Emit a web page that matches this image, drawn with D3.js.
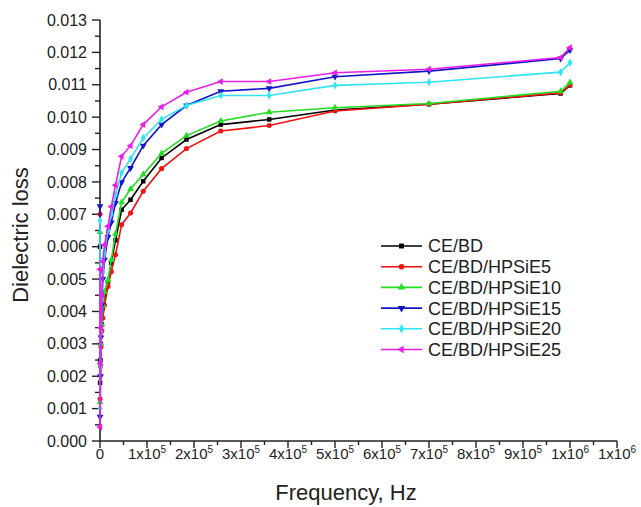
<!DOCTYPE html>
<html>
<head>
<meta charset="utf-8">
<script src="https://cdn.jsdelivr.net/npm/d3@7"></script>
<style>
  body { margin: 0; background: #fff; }
  svg { display: block; font-family: "Liberation Sans", Arial, sans-serif; }
</style>
</head>
<body>
<svg id="chart" width="641" height="507"></svg>
<script>
// frequencies (Hz)
const freq = [50, 200, 1000, 2000, 4000, 6000, 9600, 17000, 24000, 33000, 46000, 65000,
  92000, 131000, 184000, 257000, 360000, 500000, 700000, 980000, 1000000];

const ceBd = [0.0060, 0.0018, 0.0025, 0.0030, 0.0036, 0.0041, 0.0045, 0.0049, 0.0055, 0.0062, 0.00714, 0.00745,
  0.00802, 0.00874, 0.00931, 0.00977, 0.00993, 0.01022, 0.01040, 0.01073, 0.01098];
const hpsie5 = [0.0070, 0.0013, 0.0023, 0.0029, 0.0034, 0.0038, 0.0042, 0.00477, 0.00523, 0.00575, 0.00668, 0.00704,
  0.00771, 0.00841, 0.00903, 0.00957, 0.00974, 0.01019, 0.01040, 0.01075, 0.01100];
const hpsie10 = [0.00645, 0.0012, 0.0024, 0.0030, 0.0036, 0.0042, 0.0046, 0.00497, 0.00559, 0.0064, 0.00737, 0.00778,
  0.00823, 0.00888, 0.00943, 0.00988, 0.01015, 0.01029, 0.01042, 0.01080, 0.01107];
const hpsie15 = [0.00725, 0.00075, 0.0020, 0.0032, 0.0042, 0.0050, 0.0056, 0.0063, 0.00675, 0.00735, 0.00799, 0.00843,
  0.00912, 0.00977, 0.01036, 0.01080, 0.01089, 0.01125, 0.01142, 0.01181, 0.01207];
const hpsie20 = [0.0068, 0.0010, 0.0023, 0.0034, 0.0044, 0.0052, 0.0058, 0.0065, 0.0070, 0.0076, 0.00828, 0.00871,
  0.00936, 0.00993, 0.01036, 0.01067, 0.01067, 0.01098, 0.01108, 0.01139, 0.01168];
const hpsie25 = [0.0053, 0.00043, 0.0024, 0.0035, 0.0045, 0.00554, 0.00606, 0.00663, 0.00724, 0.0079, 0.00879, 0.00912,
  0.00977, 0.01032, 0.01077, 0.01110, 0.01110, 0.01137, 0.01148, 0.01184, 0.01215];

const seriesNames = ["CE/BD", "CE/BD/HPSiE5", "CE/BD/HPSiE10", "CE/BD/HPSiE15", "CE/BD/HPSiE20", "CE/BD/HPSiE25"];
const seriesValues = [ceBd, hpsie5, hpsie10, hpsie15, hpsie20, hpsie25];
const seriesColors = ["#000000", "#f01010", "#22dd22", "#1414c8", "#30e4f0", "#e81ee8"];

const xTickValues = [0, 1e5, 2e5, 3e5, 4e5, 5e5, 6e5, 7e5, 8e5, 9e5, 1e6, 1.1e6];
const xTickLead = ["0", "1", "2", "3", "4", "5", "6", "7", "8", "9", "1", "1"];
const xTickExp = ["", "5", "5", "5", "5", "5", "5", "5", "5", "5", "6", "6"];
const yTickValues = d3.range(0, 0.01301, 0.001);

const svg = d3.select("#chart");
const x = d3.scaleLinear().domain([0, 1.1e6]).range([100, 617]);
const y = d3.scaleLinear().domain([0, 0.013]).range([441, 20]);

const axisColor = "#222";

// y axis
const yAxis = svg.append("g").attr("transform", "translate(100,0)");
yAxis.append("line").attr("x1", 0).attr("x2", 0).attr("y1", y(0.013)).attr("y2", y(0))
    .attr("stroke", axisColor).attr("stroke-width", 1.6);
yAxis.selectAll(".minor").data(d3.range(0.0005, 0.013, 0.001)).join("line")
    .attr("x1", -5).attr("x2", 0).attr("y1", d => y(d)).attr("y2", d => y(d))
    .attr("stroke", axisColor).attr("stroke-width", 1.4);
yAxis.selectAll(".major").data(yTickValues).join("line")
    .attr("x1", -8).attr("x2", 0).attr("y1", d => y(d)).attr("y2", d => y(d))
    .attr("stroke", axisColor).attr("stroke-width", 1.4);
yAxis.selectAll("text").data(yTickValues).join("text")
    .attr("x", -13).attr("y", d => y(d)).attr("dy", "0.35em")
    .attr("text-anchor", "end").attr("font-size", 16).attr("fill", "#222")
    .text(d => d3.format(".3f")(d));

// x axis
const xAxis = svg.append("g").attr("transform", "translate(0,441)");
xAxis.append("line").attr("x1", x(0)).attr("x2", x(1.1e6)).attr("y1", 0).attr("y2", 0)
    .attr("stroke", axisColor).attr("stroke-width", 1.6);
xAxis.selectAll(".minor").data(d3.range(0.5e5, 1.1e6, 1e5)).join("line")
    .attr("x1", d => x(d)).attr("x2", d => x(d)).attr("y1", 0).attr("y2", 4)
    .attr("stroke", axisColor).attr("stroke-width", 1.4);
xAxis.selectAll(".major").data(xTickValues).join("line")
    .attr("x1", d => x(d)).attr("x2", d => x(d)).attr("y1", 0).attr("y2", 7)
    .attr("stroke", axisColor).attr("stroke-width", 1.4);
const xLabels = xAxis.selectAll(".xl").data(xTickValues).join("text")
    .attr("x", d => x(d)).attr("y", 18)
    .attr("text-anchor", "middle").attr("font-size", 15).attr("fill", "#222");
xLabels.each(function (d, i) {
    const t = d3.select(this);
    if (i === 0) { t.text("0"); return; }
    t.append("tspan").text(xTickLead[i] + "x10");
    t.append("tspan").attr("font-size", 10).attr("dy", -6).text(xTickExp[i]);
});

// axis titles
svg.append("text").attr("x", 346).attr("y", 500).attr("text-anchor", "middle")
    .attr("font-size", 22).attr("fill", "#222").text("Frequency, Hz");
svg.append("text").attr("transform", "translate(28,235) rotate(-90)").attr("text-anchor", "middle")
    .attr("font-size", 22).attr("fill", "#222").text("Dielectric loss");

// marker shapes
const symbolTypes = [d3.symbolSquare, d3.symbolCircle, d3.symbolTriangle, d3.symbolTriangle, d3.symbolDiamond, d3.symbolTriangle];
const symbolRotate = [0, 0, 0, 180, 0, -90];

const line = d3.line().x(d => x(d[0])).y(d => y(d[1]));

seriesValues.forEach(function (vals, i) {
    const pts = freq.map((f, j) => [f, vals[j]]);
    svg.append("path").datum(pts)
        .attr("d", line)
        .attr("fill", "none")
        .attr("stroke", seriesColors[i])
        .attr("stroke-width", 1.6);
    svg.append("g").selectAll("path").data(pts).join("path")
        .attr("d", d3.symbol().type(symbolTypes[i]).size(20))
        .attr("transform", d => `translate(${x(d[0])},${y(d[1])}) rotate(${symbolRotate[i]})`)
        .attr("fill", seriesColors[i]);
});

// legend
const legend = svg.append("g").attr("transform", "translate(381,246)");
seriesNames.forEach(function (name, i) {
    const g = legend.append("g").attr("transform", `translate(0,${i * 20.7})`);
    g.append("line").attr("x1", 0).attr("x2", 41).attr("y1", 0).attr("y2", 0)
        .attr("stroke", seriesColors[i]).attr("stroke-width", 1.6);
    g.append("path")
        .attr("d", d3.symbol().type(symbolTypes[i]).size(24))
        .attr("transform", `translate(20.5,0) rotate(${symbolRotate[i]})`)
        .attr("fill", seriesColors[i]);
    g.append("text").attr("x", 47).attr("y", 0).attr("dy", "0.36em")
        .attr("font-size", 18).attr("fill", "#222").text(name);
});
</script>
</body>
</html>
